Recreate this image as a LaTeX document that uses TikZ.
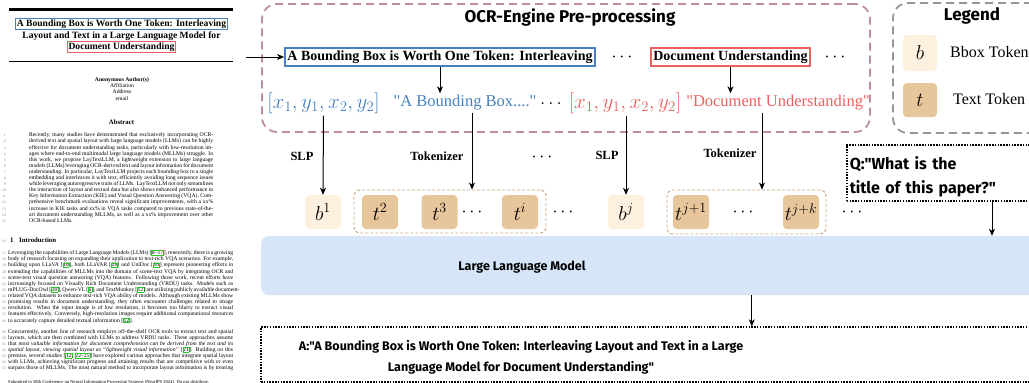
\RequirePackage{fix-cm}
\documentclass[tikz,border=0pt]{standalone}
\usepackage{fontspec}
\setmainfont{Liberation Serif}
\newfontfamily\comic{Fira Sans}[Ligatures=TeXOff]
\newfontfamily\qserif{Liberation Serif}[Ligatures=TeXOff]
\usetikzlibrary{arrows.meta}
\definecolor{ocrC}{RGB}{190,140,165}
\definecolor{legC}{RGB}{150,150,150}
\definecolor{grpC}{RGB}{200,165,130}
\definecolor{bfill}{RGB}{253,240,222}
\definecolor{tfill}{RGB}{232,198,155}
\definecolor{llmfill}{RGB}{214,230,248}
\definecolor{blueC}{RGB}{70,128,190}
\definecolor{redC}{RGB}{236,96,96}
\definecolor{citeG}{RGB}{40,200,40}
\definecolor{lnumC}{RGB}{120,120,120}
\newcommand{\fsz}[2]{\fontsize{#1}{#2}\selectfont}
\newcommand{\papf}{\fontsize{5.67}{6.2}\selectfont}
\newcommand{\jl}[5]{\node[pline] (#1) at (#2,#3) {\makebox[#4pt][s]{#5}};}
\newcommand{\jr}[4]{\node[pline] (#1) at (#2,#3) {#4};}
\newcommand{\lnr}[3]{\node[lnum] (#1) at (6,#2) {#3};}
\newcommand{\ct}[1]{{\setlength{\fboxsep}{0.15pt}\setlength{\fboxrule}{0.35pt}\color{citeG}\fbox{\color{black}#1}}}
\begin{document}
\begin{tikzpicture}[x=1pt,y=-1pt,
  pline/.style={anchor=base west, inner sep=0pt, font=\papf},
  lnum/.style={anchor=base east, inner sep=0pt, font=\fsz{3.6}{4}, text=lnumC},
  ptitle/.style={inner sep=1.2pt, font=\fsz{9.6}{11}\bfseries},
  arr/.style={draw=black, line width=1pt, -{Stealth[length=7pt,width=6pt,inset=2pt]}},
  ocrbox/.style={draw=ocrC, line width=1.8pt, dash pattern=on 8pt off 5pt, rounded corners=15pt, minimum width=608pt, minimum height=128pt},
  legbox/.style={draw=legC, line width=1.8pt, dash pattern=on 8pt off 5pt, rounded corners=15pt, minimum width=167pt, minimum height=130pt},
  btitle/.style={font=\comic\bfseries\fsz{17}{18}, inner sep=0pt},
  ocrbx/.style={line width=1.6pt, inner sep=2.5pt, font=\fsz{14}{16}\bfseries},
  dots/.style={font=\fsz{18}{20}, inner sep=0pt},
  row/.style={font=\qserif\fsz{16.5}{18}, inner sep=2pt},
  mrow/.style={font=\fsz{21}{23}, inner sep=2pt},
  tok/.style={rounded corners=4pt, minimum width=36pt, minimum height=34pt, inner sep=0pt, font=\fsz{20}{22}},
  grp/.style={draw=grpC, line width=0.9pt, dash pattern=on 3pt off 2pt, rounded corners=6pt},
  lab/.style={font=\fsz{12.5}{14}\bfseries, inner sep=0pt},
  legtxt/.style={font=\fsz{16}{18}, inner sep=2pt},
  dotbox/.style={draw=black, line width=1.5pt, dash pattern=on 1.5pt off 1.3pt},
  llmbox/.style={fill=llmfill, rounded corners=8pt, minimum width=784pt, minimum height=59pt},
  ctxt/.style={font=\comic\bfseries\fsz{12.5}{21}, inner sep=0pt}
]
\useasboundingbox (0,0) rectangle (1029,383);

% ---------------- paper page ----------------
\draw[line width=2.3pt] (9,9.5) coordinate (rt1) -- (233,9.5) coordinate (rt2);
\draw[line width=0.8pt] (9,61) coordinate (rb1) -- (233,61) coordinate (rb2);
\node[ptitle, draw=blueC, line width=1.4pt] (pt1) at (121.5,24) {A Bounding Box is Worth One Token: Interleaving};
\node[ptitle] (pt2) at (121.5,36) {Layout and Text in a Large Language Model for};
\node[ptitle, draw=redC, line width=1.4pt] (pt3) at (121.5,47) {Document Understanding};

\node[font=\papf\bfseries, inner sep=0pt] (au1) at (122,80) {Anonymous Author(s)};
\node[font=\papf, inner sep=0pt] (au2) at (122,86) {Affiliation};
\node[font=\papf, inner sep=0pt] (au3) at (122,92) {Address};
\node[font=\papf, inner sep=0pt] (au4) at (122,98.5) {email};
\node[font=\fsz{6.8}{8}\bfseries, inner sep=0pt] (abs) at (121.5,122) {Abstract};

\jl{a1}{29}{136.8}{184}{Recently, many studies have demonstrated that exclusively incorporating OCR-}
\jl{a2}{29}{142.9}{184}{derived text and spatial layout with large language models (LLMs) can be highly}
\jl{a3}{29}{149.0}{184}{effective for document understanding tasks, particularly with low-resolution im-}
\jl{a4}{29}{155.1}{184}{ages where end-to-end multimodal large language models (MLLMs) struggle. In}
\jl{a5}{29}{161.2}{184}{this work, we propose LayTextLLM, a lightweight extension to large language}
\jl{a6}{29}{167.3}{184}{models (LLMs) leveraging OCR-derived text and layout information for document}
\jl{a7}{29}{173.4}{184}{understanding. In particular, LayTextLLM projects each bounding box to a single}
\jl{a8}{29}{179.5}{184}{embedding and interleaves it with text, efficiently avoiding long sequence issues}
\jl{a9}{29}{185.6}{184}{while leveraging autoregressive traits of LLMs. LayTextLLM not only streamlines}
\jl{a10}{29}{191.7}{184}{the interaction of layout and textual data but also shows enhanced performance in}
\jl{a11}{29}{197.8}{184}{Key Information Extraction (KIE) and Visual Question Answering (VQA). Com-}
\jl{a12}{29}{203.9}{184}{prehensive benchmark evaluations reveal significant improvements, with a xx\%}
\jl{a13}{29}{210.0}{184}{increase in KIE tasks and xx\% in VQA tasks compared to previous state-of-the-}
\jl{a14}{29}{216.1}{184}{art document understanding MLLMs, as well as a xx\% improvement over other}
\jr{a15}{29}{222.2}{OCR-based LLMs.}
\lnr{n1}{136.8}{1}\lnr{n2}{142.9}{2}\lnr{n3}{149.0}{3}\lnr{n4}{155.1}{4}\lnr{n5}{161.2}{5}
\lnr{n6}{167.3}{6}\lnr{n7}{173.4}{7}\lnr{n8}{179.5}{8}\lnr{n9}{185.6}{9}\lnr{n10}{191.7}{10}
\lnr{n11}{197.8}{11}\lnr{n12}{203.9}{12}\lnr{n13}{210.0}{13}\lnr{n14}{216.1}{14}\lnr{n15}{222.2}{15}

\node[font=\fsz{6.8}{8}\bfseries, anchor=base west, inner sep=0pt] (s1) at (10,242.3) {1};
\node[font=\fsz{6.8}{8}\bfseries, anchor=base west, inner sep=0pt] (s1t) at (19,242.3) {Introduction};
\lnr{n16}{242.3}{16}

\jl{i1}{8}{254.6}{225}{Leveraging the capabilities of Large Language Models (LLMs) [\ct{8--17}], renecently, there is a growing}
\jl{i2}{8}{260.7}{225}{body of research focusing on expanding their application to text-rich VQA scenarios. For example,}
\jl{i3}{8}{266.9}{225}{building upon LLaVA [\ct{18}], both LLaVAR [\ct{19}] and UniDoc [\ct{10}] represent pioneering efforts in}
\jl{i4}{8}{273.0}{225}{extending the capabilities of MLLMs into the domain of scene-text VQA by integrating OCR and}
\jl{i5}{8}{279.1}{225}{scene-text visual question answering (VQA) features. Following those work, recent efforts have}
\jl{i6}{8}{285.3}{225}{increasingly focused on Visually Rich Document Understanding (VRDU) tasks. Models such as}
\jl{i7}{8}{291.4}{225}{mPLUG-DocOwl [\ct{20}], Qwen-VL [\ct{6}], and TextMonkey [\ct{12}] are utilizing publicly available document-}
\jl{i8}{8}{297.5}{225}{related VQA datasets to enhance text-rich VQA ability of models. Although existing MLLMs show}
\jl{i9}{8}{303.6}{225}{promising results in document understanding, they often encounter challenges related to image}
\jl{i10}{8}{309.8}{225}{resolution. When the input image is of low resolution, it becomes too blurry to extract visual}
\jl{i11}{8}{315.9}{225}{features effectively. Conversely, high-resolution images require additional computational resources}
\jr{i12}{8}{322.0}{to accurately capture detailed textual information [\ct{12}].}
\jl{i13}{8}{333.0}{225}{Concurrently, another line of research employs off-the-shelf OCR tools to extract text and spatial}
\jl{i14}{8}{339.1}{225}{layouts, which are then combined with LLMs to address VRDU tasks. These approaches assume}
\jl{i15}{8}{345.3}{225}{that \textit{most valuable information for document comprehension can be derived from the text and its}}
\jl{i16}{8}{351.4}{225}{\textit{spatial layout, viewing spatial layout as ``lightweight visual information''} [\ct{21}]. Building on this}
\jl{i17}{8}{357.5}{225}{premise, several studies [\ct{12}, \ct{22--25}] have explored various approaches that integrate spatial layout}
\jl{i18}{8}{363.7}{225}{with LLMs, achieving significant progress and attaining results that are competitive with or even}
\jl{i19}{8}{369.8}{225}{surpass those of MLLMs. The most natural method to incorporate layout information is by treating}
\lnr{n17}{254.6}{17}\lnr{n18}{260.7}{18}\lnr{n19}{266.9}{19}\lnr{n20}{273.0}{20}\lnr{n21}{279.1}{21}
\lnr{n22}{285.3}{22}\lnr{n23}{291.4}{23}\lnr{n24}{297.5}{24}\lnr{n25}{303.6}{25}\lnr{n26}{309.8}{26}
\lnr{n27}{315.9}{27}\lnr{n28}{322.0}{28}\lnr{n29}{333.0}{29}\lnr{n30}{339.1}{30}\lnr{n31}{345.3}{31}
\lnr{n32}{351.4}{32}\lnr{n33}{357.5}{33}\lnr{n34}{363.7}{34}\lnr{n35}{369.8}{35}
\node[anchor=base west, inner sep=0pt, font=\fsz{4.6}{5}] (foot) at (8,383.8) {Submitted to 38th Conference on Neural Information Processing Systems (NeurIPS 2024). Do not distribute.};

% ---------------- OCR engine box ----------------
\node[ocrbox] (ocr) at (566,68) {};
\node[btitle] (ocrt) at (570,17) {OCR-Engine Pre-processing};
\node[ocrbx, draw=blueC] (ocr1) at (440,57) {A Bounding Box is Worth One Token: Interleaving};
\node[ocrbx, draw=redC] (ocr2) at (730.5,57) {Document Understanding};
\node[dots] (d1) at (622,57) {$\cdots$};
\node[dots] (d2) at (835,57) {$\cdots$};
\coordinate (pa) at (246,57);
\draw[arr] (pa) -- (ocr1.west);

\node[mrow, text=blueC] (bb1) at (323.5,103) {$[x_1,y_1,x_2,y_2]$};
\node[row, text=blueC] (tx1) at (465,103) {"A Bounding Box...."};
\node[font=\fsz{19}{21}, inner sep=0pt] (dd2) at (551,104) {$\ldots$};
\node[mrow, text=redC] (bb2) at (625,103) {$[x_1,y_1,x_2,y_2]$};
\node[row, text=redC] (tx2) at (778,103) {"Document Understanding"};
\draw[arr] (ocr1.south) -- (ocr1.south |- tx1.north);
\draw[arr] (ocr2.south) -- (ocr2.south |- tx2.north);

% ---------------- legend ----------------
\node[legbox] (leg) at (976.5,68) {};
\node[btitle] (legt) at (972,16) {Legend};
\node[tok, fill=bfill, minimum height=36pt, minimum width=34pt] (lb) at (920,53) {$b$};
\node[legtxt, anchor=west] (lbt) at (948,52) {Bbox Token};
\node[tok, fill=tfill, minimum height=34pt, minimum width=34pt] (ltk) at (920,100) {$t$};
\node[legtxt, anchor=west] (ltt) at (951,99) {Text Token};

% ---------------- tokens ----------------
\node[grp, minimum width=192pt, minimum height=43pt] (g1) at (450,211.5) {};
\node[grp, minimum width=159pt, minimum height=44pt] (g2) at (746.5,212) {};
\node[tok, fill=bfill] (b1) at (323,212) {$b^1$};
\node[tok, fill=tfill] (t2) at (380,212) {$t^2$};
\node[tok, fill=tfill] (t3) at (439.5,212) {$t^3$};
\node[dots] (d3) at (472,212) {$\cdots$};
\node[tok, fill=tfill] (ti) at (520,212) {$t^i$};
\node[dots] (d4) at (563,212) {$\cdots$};
\node[tok, fill=bfill] (bj) at (626,212) {$b^j$};
\node[tok, fill=tfill] (tj1) at (691,212) {$t^{j+1}$};
\node[dots] (d5) at (743,212) {$\cdots$};
\node[tok, fill=tfill] (tjk) at (801,212) {$t^{j+k}$};
\node[dots] (d6) at (852,212) {$\cdots$};

\coordinate (tk1) at (472,0);
\coordinate (tk2) at (762,0);
\draw[arr] (bb1.south) -- (b1.north);
\draw[arr] (tx1.south -| tk1) -- (g1.north -| tk1);
\draw[arr] (bb2.south -| bj.north) -- (bj.north);
\draw[arr] (tx2.south -| tk2) -- (g2.north -| tk2);
\node[lab] (slp1) at (302,156) {SLP};
\node[lab] (tok1) at (437,156) {Tokenizer};
\node[dots] (d7) at (542,157) {$\cdots$};
\node[lab] (slp2) at (607,155) {SLP};
\node[lab] (tok2) at (730,153) {Tokenizer};

% ---------------- question, LLM, answer ----------------
\node[dotbox, anchor=north west, text width=185pt, inner xsep=3pt, inner ysep=3pt, minimum height=56pt, align=left, font=\comic\bfseries\fsz{16}{24}] (q) at (846,144) {\rule{0pt}{22pt}Q:"What is the\\title of this paper?"};
\node[llmbox] (llm) at (653,265.5) {};
\node[ctxt] (llmt) at (522,267) {Large Language Model};
\node[dotbox, line width=1.3pt, minimum width=784pt, minimum height=55pt] (ans) at (653,354.5) {};
\node[ctxt, align=center] (anst) at (521,357.5) {A:"A Bounding Box is Worth One Token: Interleaving Layout and Text in a Large\\Language Model for Document Understanding"};
\draw[arr] ([xshift=146pt]q.south west) -- ([xshift=146pt]q.south west |- llm.north);
\draw[arr] ([xshift=491pt]llm.south west) -- ([xshift=491pt]llm.south west |- ans.north);
\end{tikzpicture}
\end{document}
